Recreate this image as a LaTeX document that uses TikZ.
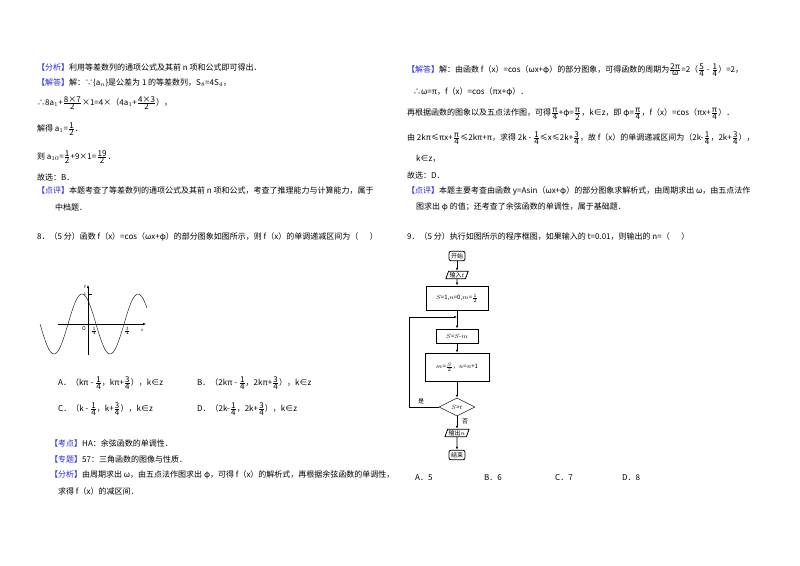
\documentclass[tikz,border=0pt]{standalone}
\usepackage{fontspec}
\setmainfont{Noto Sans CJK SC}
\usetikzlibrary{shapes.geometric,arrows.meta}
\definecolor{lbl}{RGB}{40,40,220}
\newcommand{\bk}[1]{\textcolor{lbl}{【#1】}}
\newcommand{\fr}[2]{$\frac{\mbox{#1}}{\mbox{#2}}$}
\tikzset{t/.style={anchor=west,inner sep=0pt,font=\fontsize{8}{9}\selectfont},
fb/.style={draw,thick,font=\fontsize{6}{7}\selectfont,inner sep=2pt},
ar/.style={-{Latex[length=3pt]},thick}}
\begin{document}
\begin{tikzpicture}[x=1pt,y=-1pt]
\fill[white] (0,0) rectangle (800,565);
\useasboundingbox (0,0) rectangle (800,565);
% left column
\node[t] (l1) at (37,67) {\bk{分析}利用等差数列的通项公式及其前 n 项和公式即可得出．};
\node[t] (l2) at (37,83) {\bk{解答}解：∵\{a$_n$\}是公差为 1 的等差数列，S$_8$=4S$_4$，};
\node[t] (l3) at (37,103) {∴8a$_1$+\fr{8×7}{2}×1=4×（4a$_1$+\fr{4×3}{2}），};
\node[t] (l4) at (37,129) {解得 a$_1$=\fr{1}{2}．};
\node[t] (l5) at (37,157) {则 a$_{10}$=\fr{1}{2}+9×1=\fr{19}{2}．};
\node[t] (l6) at (37,177) {故选：B．};
\node[t] (l7) at (37,191) {\bk{点评}本题考查了等差数列的通项公式及其前 n 项和公式，考查了推理能力与计算能力，属于};
\node[t] (l8) at (55,207) {中档题．};
\node[t] (q8) at (37,237) {8．（5 分）函数 f（x）=cos（ωx+φ）的部分图象如图所示，则 f（x）的单调递减区间为（\quad\ \ ）};
% graph
\draw[ar,thin] (58,324) -- (146,324);
\draw[ar,thin] (88,355) -- (88,285);
\draw[thin] (88,294) -- (92,294);
\draw[thin,domain=40:147,samples=80,smooth] plot (\x,{324-30*cos(6.4286*(\x-82))});
\node[font=\fontsize{4}{5}\selectfont\itshape] (gy) at (85,287) {y};
\node[font=\fontsize{4}{5}\selectfont] (g1) at (85,294) {1};
\node[font=\fontsize{5}{6}\selectfont\itshape] (gO) at (84,329) {O};
\node[font=\fontsize{4}{5}\selectfont] (gq1) at (94,331) {$\frac14$};
\node[font=\fontsize{4}{5}\selectfont] (gq3) at (127,331) {$\frac34$};
\node[font=\fontsize{4}{5}\selectfont\itshape] (gx) at (142,330) {x};
\node[t] (oA) at (58,383) {A．（kπ - \fr{1}{4}，kπ+\fr{3}{4}），k∈z};
\node[t] (oB) at (197,383) {B．（2kπ - \fr{1}{4}，2kπ+\fr{3}{4}），k∈z};
\node[t] (oC) at (58,409) {C．（k - \fr{1}{4}，k+\fr{3}{4}），k∈z};
\node[t] (oD) at (197,409) {D．（2k-\fr{1}{4}，2k+\fr{3}{4}），k∈z};
\node[t] (k1) at (50,443) {\bk{考点}HA：余弦函数的单调性．};
\node[t] (k2) at (50,459) {\bk{专题}57：三角函数的图像与性质．};
\node[t] (k3) at (50,475) {\bk{分析}由周期求出 ω，由五点法作图求出 φ，可得 f（x）的解析式，再根据余弦函数的单调性，};
\node[t] (k4) at (58,491) {求得 f（x）的减区间．};
% right column
\node[t] (r1) at (407,70) {\bk{解答}解：由函数 f（x）=cos（ωx+φ）的部分图象，可得函数的周期为\fr{2π}{ω}=2（\fr{5}{4} - \fr{1}{4}）=2，};
\node[t] (r2) at (413,92) {∴ω=π，f（x）=cos（πx+φ）．};
\node[t] (r3) at (407,114) {再根据函数的图象以及五点法作图，可得\fr{π}{4}+φ=\fr{π}{2}，k∈z，即 φ=\fr{π}{4}，f（x）=cos（πx+\fr{π}{4}）．};
\node[t] (r4) at (407,138) {由 2kπ≤πx+\fr{π}{4}≤2kπ+π，求得 2k - \fr{1}{4}≤x≤2k+\fr{3}{4}，故 f（x）的单调递减区间为（2k-\fr{1}{4}，2k+\fr{3}{4}），};
\node[t] (r5) at (416,159) {k∈z，};
\node[t] (r6) at (407,175) {故选：D．};
\node[t] (r7) at (407,191) {\bk{点评}本题主要考查由函数 y=Asin（ωx+φ）的部分图象求解析式，由周期求出 ω，由五点法作};
\node[t] (r8) at (416,207) {图求出 φ 的值；还考查了余弦函数的单调性，属于基础题．};
\node[t] (q9) at (407,237) {9．（5 分）执行如图所示的程序框图，如果输入的 t=0.01，则输出的 n=（\quad\ \ ）};
% flowchart
\node[fb,rounded corners=2pt] (st) at (457,256) {开始};
\node[fb,trapezium,trapezium left angle=70,trapezium right angle=110,inner sep=1pt] (in) at (457,275) {输入$t$};
\node[fb,minimum width=62pt,minimum height=24pt] (b1) at (457,298) {$S$=1,$n$=0,$m$=$\frac12$};
\coordinate (jn) at (457,317);
\node[fb,minimum width=42pt,minimum height=14pt] (b2) at (457,336) {$S$=$S$-$m$};
\node[fb,thin,minimum width=64pt,minimum height=28pt] (b3) at (457,367) {$m$=$\frac{S}{2}$，$n$=$n$+1};
\node[fb,thin,diamond,aspect=2.2,inner sep=0pt,minimum width=36pt,minimum height=18pt] (dc) at (457,407) {$S$>$t$};
\node[fb,trapezium,trapezium left angle=70,trapezium right angle=110,inner sep=1pt] (out) at (457,433) {输出$n$};
\node[fb,rounded corners=2pt] (en) at (457,455) {结束};
\draw[ar] (st) -- (in);
\draw[ar] (in) -- (b1);
\draw[thick] (b1) -- (jn);
\draw[ar] (jn) -- (b2);
\draw[ar] (b2) -- (b3);
\draw[ar] (b3) -- (dc);
\draw[ar] (dc) -- (out);
\draw[ar] (out) -- (en);
\draw[ar,thin] (dc.west) -- (409,407) -- (409,317) -- (jn);
\node[font=\fontsize{6}{7}\selectfont] (yes) at (421,401) {是};
\node[font=\fontsize{6}{7}\selectfont] (no) at (465,421) {否};
\node[t] (pA) at (415,478) {A．5};
\node[t] (pB) at (484,478) {B．6};
\node[t] (pC) at (555,478) {C．7};
\node[t] (pD) at (622,478) {D．8};
\end{tikzpicture}
\end{document}
